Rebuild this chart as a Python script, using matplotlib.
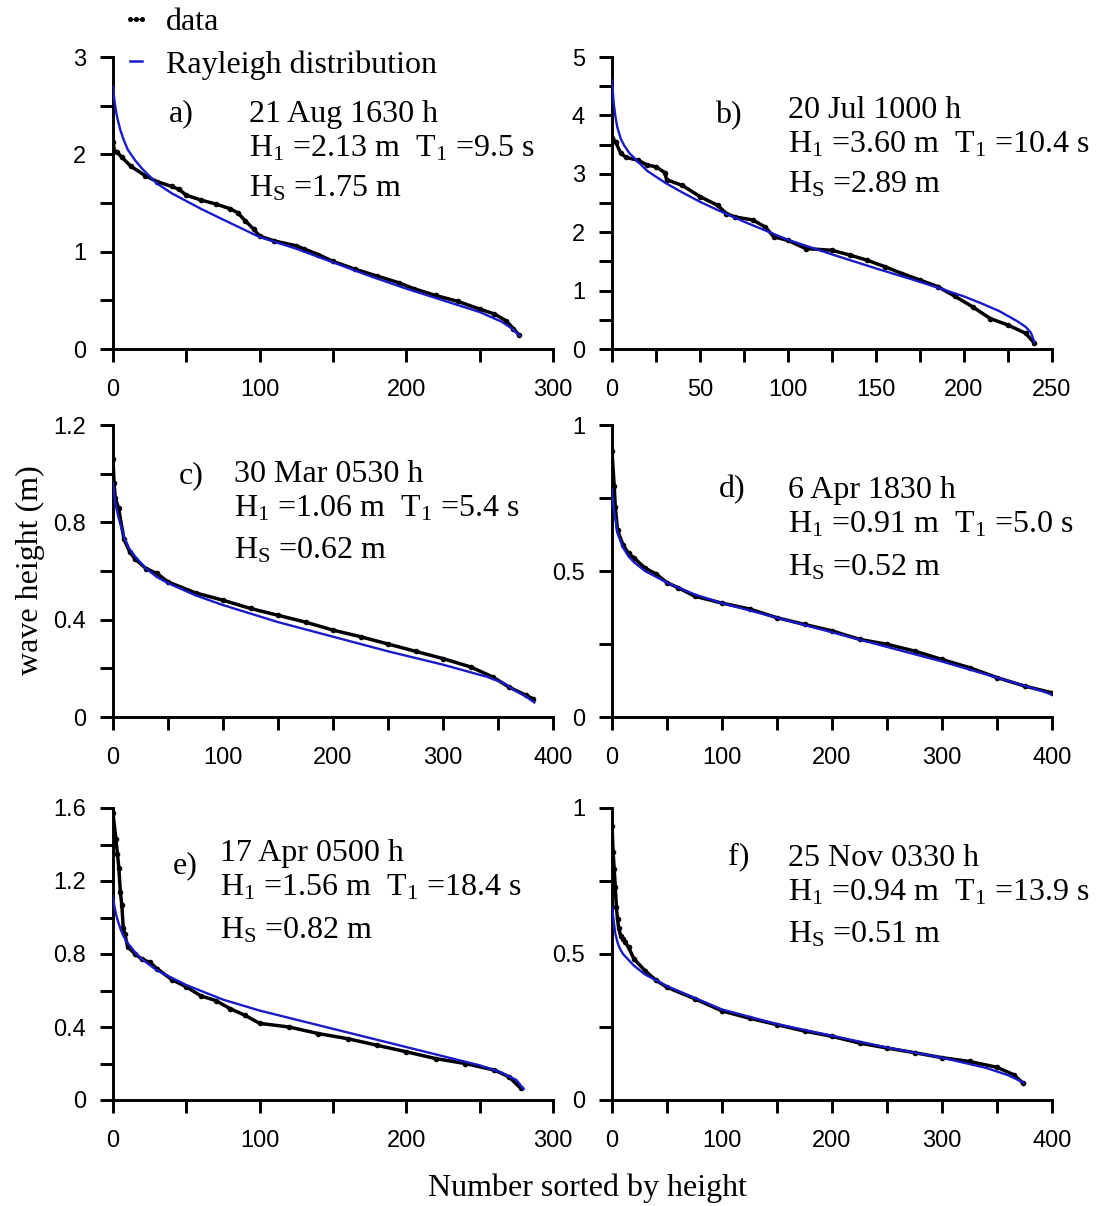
import matplotlib
matplotlib.use("Agg")
import matplotlib.pyplot as plt
from matplotlib.lines import Line2D
from matplotlib.ticker import MultipleLocator

# ---- data (index in sorted list, wave height in m)
a_x = [0, 1, 3, 6, 12, 22, 30, 40, 45, 50, 60, 70, 80, 85, 90, 96, 100, 110, 125, 130, 140, 150, 165, 180, 195, 205, 220, 235, 250, 260, 268, 273, 277]
a_y = [2.13, 2.03, 2.02, 1.97, 1.88, 1.78, 1.72, 1.67, 1.64, 1.58, 1.53, 1.49, 1.44, 1.40, 1.32, 1.23, 1.16, 1.11, 1.06, 1.03, 0.97, 0.90, 0.82, 0.75, 0.68, 0.62, 0.55, 0.49, 0.41, 0.36, 0.29, 0.21, 0.14]
a_rx = [0, 1, 2, 3, 5, 7, 10, 15, 20, 30, 40, 50, 60, 75, 100, 125, 150, 175, 200, 225, 250, 265, 272, 277]
a_ry = [2.70, 2.55, 2.45, 2.37, 2.25, 2.16, 2.05, 1.94, 1.85, 1.70, 1.60, 1.52, 1.44, 1.33, 1.15, 1.03, 0.89, 0.75, 0.62, 0.50, 0.38, 0.28, 0.21, 0.14]

b_x = [0, 2, 5, 8, 15, 20, 25, 30, 31, 40, 50, 60, 65, 70, 80, 87, 92, 100, 110, 125, 135, 145, 155, 165, 175, 185, 195, 205, 215, 225, 235, 240]
b_y = [3.62, 3.55, 3.35, 3.28, 3.23, 3.15, 3.12, 3.02, 2.90, 2.80, 2.61, 2.46, 2.32, 2.26, 2.21, 2.09, 1.92, 1.86, 1.72, 1.69, 1.61, 1.52, 1.41, 1.29, 1.18, 1.07, 0.90, 0.72, 0.52, 0.41, 0.27, 0.10]
b_rx = [0, 1, 2, 3, 5, 7, 10, 15, 20, 30, 40, 50, 60, 75, 100, 125, 150, 175, 200, 210, 220, 230, 235, 238, 240]
b_ry = [4.60, 4.20, 3.97, 3.80, 3.60, 3.48, 3.35, 3.20, 3.05, 2.85, 2.68, 2.52, 2.38, 2.18, 1.87, 1.62, 1.38, 1.15, 0.90, 0.78, 0.65, 0.48, 0.38, 0.28, 0.12]

c_x = [0, 1, 2, 5, 10, 15, 20, 30, 40, 50, 75, 100, 125, 150, 175, 200, 225, 250, 275, 300, 325, 345, 360, 375, 382]
c_y = [1.06, 0.96, 0.90, 0.86, 0.73, 0.68, 0.65, 0.61, 0.59, 0.555, 0.51, 0.48, 0.446, 0.418, 0.39, 0.357, 0.33, 0.30, 0.27, 0.24, 0.206, 0.165, 0.123, 0.09, 0.075]
c_rx = [0, 2, 5, 10, 15, 20, 30, 40, 50, 75, 100, 125, 150, 200, 250, 300, 340, 355, 365, 375, 383]
c_ry = [0.96, 0.88, 0.82, 0.74, 0.69, 0.66, 0.61, 0.575, 0.55, 0.50, 0.46, 0.425, 0.39, 0.33, 0.27, 0.215, 0.165, 0.14, 0.11, 0.085, 0.06]

d_x = [0, 2, 3, 5, 10, 15, 20, 30, 40, 50, 60, 75, 100, 125, 150, 175, 200, 225, 250, 275, 300, 325, 350, 375, 400, 415]
d_y = [0.91, 0.79, 0.72, 0.64, 0.59, 0.56, 0.545, 0.51, 0.49, 0.46, 0.443, 0.414, 0.39, 0.37, 0.34, 0.317, 0.295, 0.266, 0.249, 0.226, 0.197, 0.169, 0.135, 0.106, 0.083, 0.06]
d_rx = [0, 1, 3, 5, 10, 15, 20, 30, 40, 50, 75, 100, 150, 200, 250, 300, 350, 390, 405, 415]
d_ry = [0.78, 0.73, 0.68, 0.63, 0.58, 0.55, 0.53, 0.50, 0.48, 0.46, 0.42, 0.39, 0.34, 0.29, 0.24, 0.19, 0.135, 0.09, 0.07, 0.045]

e_x = [0, 2, 3, 4, 5, 6, 7, 8, 10, 15, 20, 25, 30, 40, 50, 60, 70, 80, 90, 100, 120, 140, 160, 180, 200, 220, 240, 260, 270, 278]
e_y = [1.57, 1.43, 1.35, 1.27, 1.14, 1.07, 0.94, 0.91, 0.84, 0.80, 0.77, 0.755, 0.72, 0.66, 0.62, 0.57, 0.545, 0.50, 0.464, 0.42, 0.40, 0.364, 0.336, 0.30, 0.264, 0.227, 0.20, 0.164, 0.127, 0.064]
e_rx = [0, 1, 2, 3, 5, 7, 10, 15, 20, 30, 40, 50, 75, 100, 125, 150, 175, 200, 225, 250, 265, 275, 280]
e_ry = [1.11, 1.06, 1.02, 0.99, 0.94, 0.90, 0.86, 0.81, 0.77, 0.71, 0.67, 0.63, 0.55, 0.49, 0.44, 0.39, 0.34, 0.29, 0.24, 0.19, 0.15, 0.11, 0.06]

f_x = [0, 1, 2, 3, 4, 5, 6, 8, 10, 12, 15, 20, 30, 40, 50, 75, 100, 125, 150, 175, 200, 225, 250, 275, 300, 325, 350, 365, 374]
f_y = [0.94, 0.85, 0.79, 0.73, 0.66, 0.62, 0.59, 0.56, 0.55, 0.54, 0.523, 0.483, 0.443, 0.41, 0.386, 0.347, 0.305, 0.28, 0.258, 0.236, 0.218, 0.195, 0.178, 0.162, 0.145, 0.132, 0.112, 0.087, 0.057]
f_rx = [0, 1, 2, 3, 5, 7, 10, 15, 20, 30, 40, 50, 75, 100, 150, 200, 250, 300, 340, 360, 374]
f_ry = [0.66, 0.63, 0.60, 0.57, 0.54, 0.52, 0.50, 0.48, 0.46, 0.43, 0.41, 0.39, 0.35, 0.31, 0.26, 0.22, 0.18, 0.145, 0.11, 0.085, 0.06]

panel_letters = ["a)", "b)", "c)", "d)", "e)", "f)"]
dates = ["21 Aug 1630 h", "20 Jul 1000 h", "30 Mar 0530 h", "6 Apr 1830 h", "17 Apr 0500 h", "25 Nov 0330 h"]
H1 = ["2.13", "3.60", "1.06", "0.91", "1.56", "0.94"]
T1 = ["9.5", "10.4", "5.4", "5.0", "18.4", "13.9"]
Hs = ["1.75", "2.89", "0.62", "0.52", "0.82", "0.51"]

xmax = [300, 250, 400, 400, 300, 400]
ymax = [3, 5, 1.2, 1, 1.6, 1]
xmajor = [100, 50, 100, 100, 100, 100]
ymajor = [1, 1, 0.4, 0.5, 0.4, 0.5]

serif = "Liberation Serif"
sans = "Liberation Sans"
plt.rcParams["mathtext.fontset"] = "custom"
plt.rcParams["mathtext.rm"] = serif
plt.rcParams["mathtext.it"] = serif + ":italic"

W, H = 1107, 1206
fig = plt.figure(figsize=(W / 100, H / 100), dpi=100)

blue = "#1a1ac8"
lefts = [113, 612]
bottoms = [349, 717, 1100]
aw, ah = 440, 292

# text placement in axes fraction: (letter x, letter y, text x, date y, H1 y, Hs y)
txt_pos = [
    (0.126, 0.779, 0.31, 0.779, 0.659, 0.522),
    (0.233, 0.772, 0.40, 0.792, 0.672, 0.535),
    (0.150, 0.800, 0.274, 0.806, 0.686, 0.543),
    (0.242, 0.751, 0.40, 0.751, 0.631, 0.483),
    (0.136, 0.778, 0.243, 0.818, 0.699, 0.553),
    (0.264, 0.807, 0.399, 0.801, 0.682, 0.540),
]

series = [(a_x, a_y, a_rx, a_ry), (b_x, b_y, b_rx, b_ry), (c_x, c_y, c_rx, c_ry),
          (d_x, d_y, d_rx, d_ry), (e_x, e_y, e_rx, e_ry), (f_x, f_y, f_rx, f_ry)]

for i, (dx, dy, rx, ry) in enumerate(series):
    row, col = i // 2, i % 2
    ax = fig.add_axes([lefts[col] / W, 1 - bottoms[row] / H, aw / W, ah / H])
    ax.plot(dx, dy, "-", color="black", lw=2.5, marker="o", ms=3.0, zorder=2)
    ax.plot(rx, ry, "-", color=blue, lw=1.7, zorder=3)
    ax.set_xlim(0, xmax[i])
    ax.set_ylim(0, ymax[i])
    ax.xaxis.set_major_locator(MultipleLocator(xmajor[i]))
    ax.xaxis.set_minor_locator(MultipleLocator(xmajor[i] / 2))
    ax.yaxis.set_major_locator(MultipleLocator(ymajor[i]))
    ax.yaxis.set_minor_locator(MultipleLocator(ymajor[i] / 2))
    for s in ["top", "right"]:
        ax.spines[s].set_visible(False)
    for s in ["left", "bottom"]:
        ax.spines[s].set_linewidth(2.1)
    ax.tick_params(which="both", direction="out", length=9.5, width=2.1)
    ax.tick_params(axis="x", which="major", pad=12)
    ax.tick_params(axis="y", which="major", pad=10)
    ax.tick_params(which="major", labelsize=17)
    for lab in ax.get_xticklabels() + ax.get_yticklabels():
        lab.set_family(sans)
    ax.yaxis.set_major_formatter(plt.FuncFormatter(lambda v, p: ("%g" % round(v, 3))))
    ax.patch.set_alpha(0)

    lx, ly, tx, y1, y2, y3 = txt_pos[i]
    kw = dict(transform=ax.transAxes, family=serif, fontsize=23, va="baseline", ha="left")
    ax.text(lx, ly, panel_letters[i], **kw)
    ax.text(tx, y1, dates[i], **kw)
    ax.text(tx, y2, r"H$_{\rm 1}$ =" + H1[i] + r" m  T$_{\rm 1}$ =" + T1[i] + " s", **kw)
    ax.text(tx, y3, r"H$_{\rm S}$ =" + Hs[i] + " m", **kw)

handles = [Line2D([], [], color="black", lw=1.0, marker="o", ms=2.6),
           Line2D([], [], color=blue, lw=1.8)]
fig.legend(handles, ["data", "Rayleigh distribution"], loc="upper left",
           bbox_to_anchor=(120 / W, 1 - 8 / H), frameon=False, numpoints=3,
           prop={"family": serif, "size": 23}, handlelength=1.0,
           handletextpad=0.45, labelspacing=0.4, borderpad=0, borderaxespad=0)

fig.text(30 / W, 1 - 570 / H, "wave height (m)", rotation=90, family=serif,
         fontsize=23, ha="center", va="center")
fig.text(588 / W, 1 - 1188 / H, "Number sorted by height", family=serif,
         fontsize=23, ha="center", va="center")

fig.savefig("out.png", dpi=100)
plt.close()
